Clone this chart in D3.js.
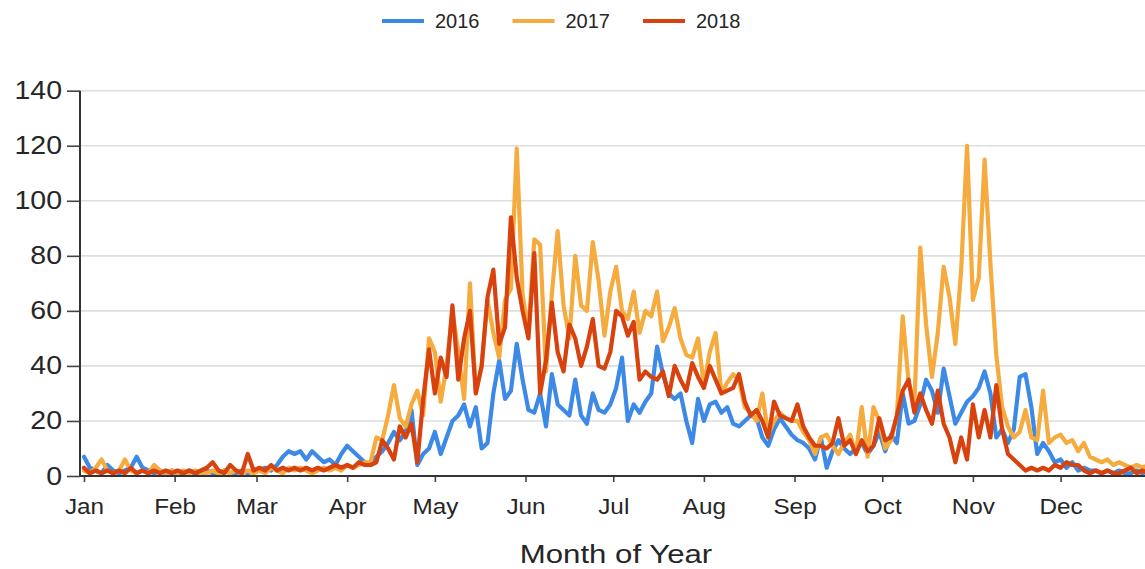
<!DOCTYPE html>
<html>
<head>
<meta charset="utf-8">
<script src="https://cdn.jsdelivr.net/npm/d3@7"></script>
<style>
  body { margin: 0; background: #fff; }
  svg { display: block; font-family: "Liberation Sans", Arial, sans-serif; }
</style>
</head>
<body>
<svg id="chart" width="1145" height="569"></svg>
<script>
// month ticks (day of year where each month starts)
const months = ["Jan", "Feb", "Mar", "Apr", "May", "Jun", "Jul", "Aug", "Sep", "Oct", "Nov", "Dec"];
const monthStartDays = [0, 31, 59, 90, 120, 151, 181, 212, 243, 273, 304, 334];
const yTicks = [0, 20, 40, 60, 80, 100, 120, 140];
const years = ["2016", "2017", "2018"];
const colors = ["#3d8ae6", "#f5ab3e", "#d8420e"];

// one value every second day of the year (day 0, 2, 4 ... 364)
const sampleDays = d3.range(0, 365, 2);

const v2016 = [
  7, 3, 2, 1, 4, 2, 1, 2, 3, 7,
  3, 2, 1, 2, 1, 2, 1, 1, 2, 1,
  1, 2, 1, 1, 2, 1, 1, 2, 1, 2,
  2, 3, 2, 4, 7, 9, 8, 9, 6, 9,
  7, 5, 6, 4, 8, 11, 9, 7, 5, 4,
  7, 9, 12, 16, 13, 16, 24, 4, 8, 10,
  16, 8, 14, 20, 22, 26, 18, 25, 10, 12,
  30, 42, 28, 31, 48, 35, 24, 23, 30, 18,
  37, 26, 24, 22, 35, 22, 19, 30, 24, 23,
  26, 32, 43, 20, 26, 23, 27, 30, 47, 37,
  30, 28, 30, 20, 12, 28, 20, 26, 27, 23,
  25, 19, 18, 20, 22, 21, 14, 11, 17, 21,
  18, 15, 13, 12, 10, 6, 14, 3, 9, 13,
  10, 8, 10, 12, 8, 11, 16, 9, 15, 12,
  30, 19, 20, 26, 35, 31, 23, 39, 29, 19,
  23, 27, 29, 32, 38, 30, 14, 17, 12, 17,
  36, 37, 25, 8, 12, 9, 5, 6, 3, 5,
  2, 3, 2, 2, 1, 2, 1, 2, 1, 1,
  2, 1, 2
];

const v2017 = [
  2, 1, 3, 6, 2, 1, 2, 6, 2, 1,
  2, 1, 4, 2, 1, 2, 1, 2, 1, 2,
  1, 1, 2, 1, 2, 1, 2, 1, 2, 1,
  2, 1, 3, 2, 1, 3, 2, 3, 2, 1,
  2, 3, 2, 3, 2, 4, 3, 4, 5, 5,
  14, 13, 22, 33, 21, 18, 26, 31, 22, 50,
  45, 27, 40, 60, 45, 28, 70, 30, 40, 64,
  52, 43, 64, 68, 119, 66, 52, 86, 84, 38,
  66, 89, 62, 50, 80, 62, 60, 85, 71, 51,
  67, 76, 60, 57, 67, 52, 60, 58, 67, 49,
  54, 61, 50, 44, 43, 50, 33, 45, 52, 30,
  34, 37, 35, 25, 23, 20, 30, 15, 20, 23,
  21, 20, 20, 16, 13, 8, 14, 15, 11, 8,
  12, 15, 8, 25, 7, 25, 20, 10, 13, 22,
  58, 34, 26, 83, 55, 36, 52, 76, 65, 48,
  75, 120, 64, 72, 115, 77, 44, 25, 18, 14,
  16, 24, 14, 13, 31, 12, 14, 15, 12, 13,
  9, 12, 7, 6, 5, 6, 4, 5, 4, 3,
  4, 3, 4
];

const v2018 = [
  3, 1, 2, 1, 2, 1, 2, 1, 3, 1,
  2, 1, 2, 1, 2, 1, 2, 1, 2, 1,
  2, 3, 5, 2, 1, 4, 2, 1, 8, 2,
  3, 2, 4, 2, 3, 2, 3, 2, 3, 2,
  3, 2, 3, 4, 3, 4, 3, 5, 4, 4,
  5, 13, 10, 6, 18, 14, 19, 5, 28, 46,
  30, 43, 36, 62, 35, 50, 60, 30, 40, 65,
  75, 48, 54, 94, 72, 60, 50, 81, 30, 42,
  63, 45, 38, 55, 50, 40, 47, 57, 40, 39,
  45, 60, 58, 51, 56, 35, 38, 36, 35, 38,
  29, 40, 35, 31, 41, 36, 32, 40, 35, 30,
  31, 32, 37, 27, 22, 24, 20, 14, 27, 22,
  21, 20, 26, 18, 14, 11, 11, 10, 12, 21,
  11, 13, 8, 13, 9, 11, 21, 13, 14, 22,
  31, 35, 23, 30, 24, 19, 31, 19, 14, 5,
  14, 6, 26, 14, 24, 14, 33, 17, 8, 6,
  4, 2, 3, 2, 3, 2, 4, 3, 5, 4,
  4, 2, 1, 2, 1, 2, 1, 1, 2, 3,
  1, 2, 1
];

const seriesValues = [v2016, v2017, v2018];

const svg = d3.select("#chart");
const W = 1145;
const axisX = 80, axisY = 476;

const x = d3.scaleLinear().domain([0, 365]).range([84, 84 + 365 * 2.924]);
const y = d3.scaleLinear().domain([0, 140]).range([476, 90.7]);

// gridlines
svg.append("g")
  .selectAll("line")
  .data(yTicks.filter(d => d > 0))
  .enter()
  .append("line")
  .attr("x1", axisX)
  .attr("x2", W)
  .attr("y1", d => y(d))
  .attr("y2", d => y(d))
  .attr("stroke", "#dedede")
  .attr("stroke-width", 1.6);

// y axis
const yAxis = svg.append("g")
  .attr("transform", `translate(${axisX},0)`)
  .call(d3.axisLeft(y).tickValues(yTicks).tickSize(13).tickPadding(5).tickSizeOuter(0));
yAxis.select(".domain").remove();
yAxis.selectAll(".tick line").attr("stroke", "#444").attr("stroke-width", 1.6);
yAxis.selectAll(".tick text")
  .attr("fill", "#262626")
  .style("font-size", "25px")
  .attr("x", null)
  .attr("transform", "translate(-18,0) scale(1.14,1)");

// x axis
const xAxis = svg.append("g")
  .attr("transform", `translate(0,${axisY})`)
  .call(d3.axisBottom(x).tickValues(monthStartDays)
    .tickFormat((d, i) => months[i]).tickSize(6).tickPadding(17).tickSizeOuter(0));
xAxis.select(".domain").remove();
xAxis.selectAll(".tick line").attr("stroke", "#444").attr("stroke-width", 1.6);
xAxis.selectAll(".tick text")
  .attr("fill", "#262626")
  .style("font-size", "21.5px")
  .attr("y", null)
  .attr("transform", "translate(0,23) scale(1.13,1)");

// series lines
const line = d3.line()
  .x((d, i) => x(sampleDays[i]))
  .y(d => y(d));

svg.append("g")
  .selectAll("path")
  .data(seriesValues)
  .enter()
  .append("path")
  .attr("d", d => line(d))
  .attr("fill", "none")
  .attr("stroke", (d, i) => colors[i])
  .attr("stroke-width", 4.2)
  .attr("stroke-linejoin", "round")
  .attr("stroke-linecap", "round");

// axis lines on top
svg.append("line")
  .attr("x1", axisX).attr("x2", axisX)
  .attr("y1", y(140)).attr("y2", axisY)
  .attr("stroke", "#333").attr("stroke-width", 2);
svg.append("line")
  .attr("x1", axisX).attr("x2", W)
  .attr("y1", axisY).attr("y2", axisY)
  .attr("stroke", "#333").attr("stroke-width", 2);

// x axis title
svg.append("text")
  .attr("transform", "translate(616,563) scale(1.2,1)")
  .attr("text-anchor", "middle")
  .attr("fill", "#262626")
  .style("font-size", "26px")
  .text("Month of Year");

// legend
const legend = svg.append("g")
  .selectAll("g")
  .data(years)
  .enter()
  .append("g")
  .attr("transform", (d, i) => `translate(${382 + i * 130.5},21)`);
legend.append("line")
  .attr("x1", 0).attr("x2", 42)
  .attr("stroke", (d, i) => colors[i])
  .attr("stroke-width", 4);
legend.append("text")
  .attr("x", 53)
  .attr("y", 7)
  .attr("fill", "#262626")
  .style("font-size", "20px")
  .text(d => d);
</script>
</body>
</html>
